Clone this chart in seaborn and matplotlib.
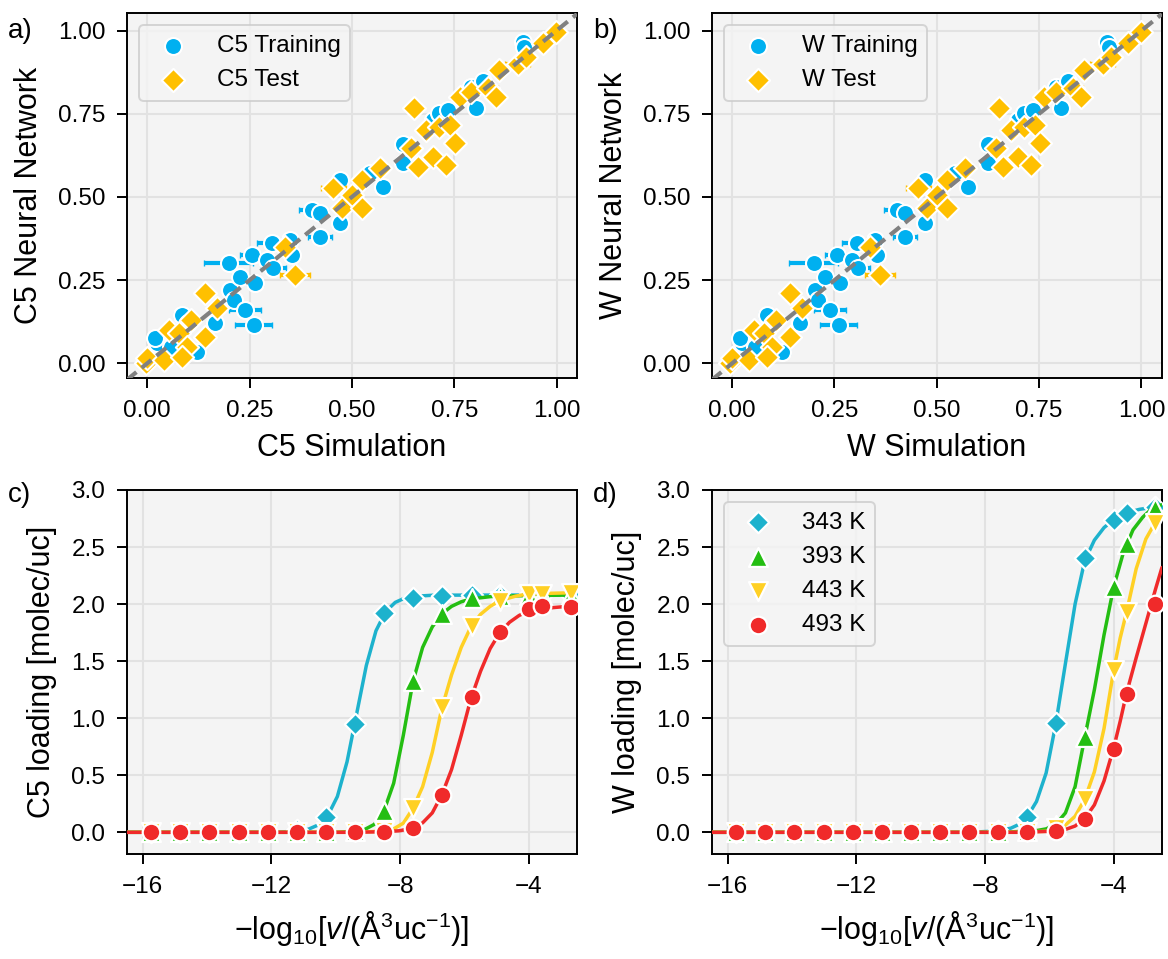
import matplotlib
matplotlib.use('Agg')
import matplotlib.pyplot as plt
import seaborn as sns

# ---- parity plots (a, b): simulation vs neural network ----
train_sim = [0.024, 0.057, 0.020, 0.085, 0.122, 0.166, 0.203, 0.211, 0.239, 0.260,
             0.199, 0.227, 0.264, 0.256, 0.292, 0.304, 0.308, 0.353, 0.349, 0.402,
             0.422, 0.422, 0.471, 0.471, 0.544, 0.576, 0.625, 0.625, 0.698, 0.714,
             0.735, 0.804, 0.790, 0.820, 0.917, 0.921, 0.100]
train_nn = [0.060, 0.050, 0.075, 0.145, 0.035, 0.120, 0.220, 0.190, 0.160, 0.115,
            0.301, 0.261, 0.240, 0.326, 0.311, 0.361, 0.286, 0.326, 0.371, 0.461,
            0.451, 0.381, 0.421, 0.551, 0.571, 0.531, 0.601, 0.660, 0.731, 0.751,
            0.762, 0.767, 0.830, 0.850, 0.967, 0.952, 0.120]
train_err = [0.010, 0.010, 0.010, 0.020, 0.020, 0.015, 0.015, 0.015, 0.040, 0.045,
             0.060, 0.020, 0.020, 0.030, 0.015, 0.035, 0.030, 0.015, 0.020, 0.030,
             0.020, 0.030, 0.015, 0.015, 0.015, 0.015, 0.015, 0.015, 0.015, 0.015,
             0.015, 0.015, 0.015, 0.015, 0.015, 0.015, 0.015]

test_sim = [-0.004, 0.000, 0.041, 0.053, 0.077, 0.097, 0.106, 0.142, 0.142, 0.170,
            0.085, 0.337, 0.361, 0.455, 0.475, 0.500, 0.524, 0.524, 0.568, 0.645,
            0.653, 0.661, 0.682, 0.698, 0.714, 0.731, 0.739, 0.751, 0.763, 0.791,
            0.832, 0.852, 0.860, 0.905, 0.925, 0.966, 0.998]
test_nn = [0.000, 0.015, 0.010, 0.100, 0.090, 0.050, 0.130, 0.080, 0.210, 0.165,
           0.020, 0.351, 0.266, 0.526, 0.466, 0.506, 0.551, 0.466, 0.586, 0.646,
           0.767, 0.591, 0.701, 0.621, 0.711, 0.596, 0.716, 0.661, 0.802, 0.817,
           0.827, 0.800, 0.882, 0.900, 0.922, 0.962, 0.997]
test_err = [0.015, 0.015, 0.015, 0.020, 0.015, 0.015, 0.015, 0.020, 0.015, 0.015,
            0.015, 0.020, 0.036, 0.030, 0.015, 0.015, 0.015, 0.015, 0.015, 0.015,
            0.015, 0.015, 0.020, 0.015, 0.015, 0.015, 0.015, 0.015, 0.020, 0.020,
            0.025, 0.015, 0.020, 0.030, 0.015, 0.015, 0.015]

# ---- isotherms (c, d) ----
log_v = [-15.74, -14.83, -13.93, -13.02, -12.12, -11.21, -10.31, -9.40,
         -8.50, -7.59, -6.69, -5.78, -4.88, -4.00, -3.60, -2.70]
temps = ['343 K', '393 K', '443 K', '493 K']

c5_343 = [0, 0, 0, 0, 0, 0.02, 0.13, 0.95, 1.92, 2.055, 2.075, 2.08, 2.08, 2.08, 2.08, 2.08]
c5_393 = [0, 0, 0, 0, 0, 0, 0, 0.01, 0.19, 1.33, 1.915, 2.05, 2.07, 2.08, 2.08, 2.08]
c5_443 = [0, 0, 0, 0, 0, 0, 0, 0, 0.01, 0.21, 1.10, 1.81, 2.03, 2.09, 2.09, 2.10]
c5_493 = [0, 0, 0, 0, 0, 0, 0, 0, 0.005, 0.04, 0.33, 1.185, 1.755, 1.96, 1.98, 1.975]

w_343 = [0, 0, 0, 0, 0, 0, 0, 0, 0, 0.01, 0.13, 0.957, 2.40, 2.74, 2.80, 2.855]
w_393 = [0, 0, 0, 0, 0, 0, 0, 0, 0, 0, 0.01, 0.06, 0.835, 2.15, 2.53, 2.84]
w_443 = [0, 0, 0, 0, 0, 0, 0, 0, 0, 0, 0, 0.04, 0.295, 1.42, 1.93, 2.71]
w_493 = [0, 0, 0, 0, 0, 0, 0, 0, 0, 0, 0, 0.01, 0.12, 0.73, 1.21, 2.00]

# fitted curves
c5_fit_x_343 = [-16.5, -12.0, -11.75, -11.15, -10.85, -10.55, -10.25, -9.95, -9.65,
                -9.35, -9.05, -8.75, -8.45, -8.15, -7.85, -7.55, -6.95, -2.5]
c5_fit_343 = [0.0, 0.0, 0.002, 0.012, 0.027, 0.064, 0.145, 0.314, 0.618,
              1.04, 1.462, 1.766, 1.934, 2.015, 2.053, 2.068, 2.078, 2.08]
c5_fit_x_393 = [-16.5, -10.0, -9.4, -9.1, -8.8, -8.5, -8.2, -7.9, -7.6, -7.3,
                -7.0, -6.7, -6.4, -6.1, -5.8, -5.2, -4.9, -2.5]
c5_fit_393 = [0.0, 0.0, 0.01, 0.025, 0.07, 0.19, 0.43, 0.85, 1.32, 1.62,
              1.80, 1.915, 1.98, 2.02, 2.045, 2.065, 2.07, 2.08]
c5_fit_x_443 = [-16.5, -9.5, -8.5, -8.2, -7.9, -7.6, -7.3, -7.0, -6.7, -6.4,
                -6.1, -5.8, -5.5, -5.2, -4.9, -4.4, -4.0, -2.5]
c5_fit_443 = [0.0, 0.0, 0.01, 0.03, 0.08, 0.21, 0.40, 0.70, 1.09, 1.38,
              1.62, 1.80, 1.91, 1.98, 2.03, 2.07, 2.09, 2.10]
c5_fit_x_493 = [-16.5, -9.5, -8.5, -8.0, -7.6, -7.3, -7.0, -6.7, -6.4, -6.1,
                -5.8, -5.5, -5.2, -4.9, -4.6, -4.3, -4.0, -3.6, -3.0, -2.5]
c5_fit_493 = [0.0, 0.0, 0.005, 0.014, 0.04, 0.083, 0.17, 0.33, 0.55, 0.85,
              1.17, 1.41, 1.61, 1.75, 1.84, 1.90, 1.94, 1.96, 1.975, 1.98]

w_fit_x_343 = [-16.5, -8.5, -7.6, -7.2, -6.9, -6.7, -6.4, -6.1, -5.8, -5.5,
               -5.2, -4.9, -4.6, -4.3, -4.0, -3.6, -3.2, -2.5]
w_fit_343 = [0.0, 0.0, 0.012, 0.036, 0.075, 0.13, 0.27, 0.52, 0.95, 1.48,
             2.0, 2.38, 2.56, 2.67, 2.74, 2.80, 2.83, 2.86]
w_fit_x_393 = [-16.5, -7.5, -6.7, -6.4, -6.1, -5.8, -5.5, -5.2, -4.9, -4.6,
               -4.3, -4.0, -3.7, -3.4, -3.1, -2.8, -2.5]
w_fit_393 = [0.0, 0.0, 0.01, 0.015, 0.03, 0.07, 0.17, 0.40, 0.83, 1.25,
             1.73, 2.15, 2.45, 2.65, 2.76, 2.84, 2.87]
w_fit_x_443 = [-16.5, -7.0, -6.0, -5.8, -5.5, -5.2, -4.9, -4.6, -4.3, -4.0,
               -3.8, -3.6, -3.3, -3.0, -2.7, -2.5]
w_fit_443 = [0.0, 0.0, 0.01, 0.03, 0.064, 0.14, 0.29, 0.53, 0.91, 1.42,
             1.70, 1.93, 2.31, 2.57, 2.72, 2.78]
w_fit_x_493 = [-16.5, -7.0, -5.8, -5.5, -5.2, -4.9, -4.6, -4.3, -4.0, -3.8,
               -3.6, -3.3, -3.0, -2.7, -2.5]
w_fit_493 = [0.0, 0.0, 0.01, 0.025, 0.055, 0.12, 0.24, 0.45, 0.74, 0.97,
             1.22, 1.53, 1.83, 2.13, 2.32]

train_color = '#00b0f0'
test_color = '#ffc000'
temp_colors = ['#1db2cd', '#24be12', '#ffd024', '#f02a2a']
temp_markers = ['D', '^', 'v', 'o']
temp_sizes = [120, 185, 185, 160]

sns.set_theme(style='ticks')
plt.rcParams['font.family'] = ['Liberation Sans', 'DejaVu Sans']
plt.rcParams.update({
    'mathtext.fontset': 'custom',
    'mathtext.rm': 'Liberation Sans',
    'mathtext.it': 'Liberation Sans:italic',
    'mathtext.bf': 'Liberation Sans:bold',
    'axes.facecolor': '#f4f4f4',
    'axes.edgecolor': 'black',
    'axes.linewidth': 1.4,
    'text.color': 'black',
    'axes.labelcolor': 'black',
    'xtick.color': 'black', 'ytick.color': 'black',
    'xtick.major.size': 7, 'ytick.major.size': 7,
    'xtick.major.width': 1.4, 'ytick.major.width': 1.4,
    'xtick.major.pad': 8.5, 'ytick.major.pad': 8.5,
    'xtick.labelsize': 17.5, 'ytick.labelsize': 17.5,
    'axes.labelsize': 22,
    'axes.labelpad': 8,
    'legend.fontsize': 17.5,
})

fig = plt.figure(figsize=(11.68, 9.59), dpi=100)
ax_a = fig.add_axes([0.1085, 0.6055, 0.3855, 0.3806])
ax_b = fig.add_axes([0.6093, 0.6055, 0.3855, 0.3806])
ax_c = fig.add_axes([0.1085, 0.1095, 0.3855, 0.3796])
ax_d = fig.add_axes([0.6093, 0.1095, 0.3855, 0.3796])


def parity_panel(ax, species, letter):
    ax.errorbar(train_sim, train_nn, xerr=train_err, fmt='none', ecolor=train_color,
                elinewidth=3, capsize=2.5, capthick=1, zorder=2)
    sns.scatterplot(x=train_sim, y=train_nn, color=train_color, marker='o', s=150,
                    edgecolor='white', linewidth=1.5, label=species + ' Training',
                    ax=ax, zorder=3)
    ax.errorbar(test_sim, test_nn, xerr=test_err, fmt='none', ecolor=test_color,
                elinewidth=3, capsize=2.5, capthick=1, zorder=4)
    sns.scatterplot(x=test_sim, y=test_nn, color=test_color, marker='D', s=140,
                    edgecolor='white', linewidth=1.5, label=species + ' Test',
                    ax=ax, zorder=5)
    ax.plot([-0.05, 1.05], [-0.05, 1.05], color='#808080', lw=3,
            linestyle=(0, (3, 1.6)), zorder=6)
    ax.set_xlim(-0.05, 1.05)
    ax.set_ylim(-0.045, 1.052)
    ticks = [0, 0.25, 0.5, 0.75, 1.0]
    ax.set_xticks(ticks)
    ax.set_yticks(ticks)
    ax.set_xticklabels(['%.2f' % t for t in ticks])
    ax.set_yticklabels(['%.2f' % t for t in ticks])
    ax.set_xlabel(species + ' Simulation')
    ax.set_ylabel(species + ' Neural Network', labelpad=10)
    ax.grid(True, color='#e2e2e2', linewidth=1.5)
    ax.set_axisbelow(True)
    leg = ax.legend(loc='upper left', frameon=True)
    leg.get_frame().set_linewidth(1.4)
    ax.text(-0.263, 0.951, letter, transform=ax.transAxes, ha='left', va='center',
            fontsize=20)


def isotherm_panel(ax, species, series, fits, letter, show_legend):
    for i in range(len(temps)):
        fx, fy = fits[i]
        sns.lineplot(x=fx, y=fy, color=temp_colors[i], lw=2.5, ax=ax,
                     errorbar=None, legend=False, zorder=2 + 2 * i)
        sns.scatterplot(x=log_v, y=series[i], color=temp_colors[i],
                        marker=temp_markers[i], s=temp_sizes[i], edgecolor='white',
                        linewidth=1.6, label=temps[i], ax=ax, zorder=3 + 2 * i)
    ax.set_xlim(-16.5, -2.5)
    ax.set_ylim(-0.19, 3.0)
    ax.set_xticks([-16, -12, -8, -4])
    ax.set_yticks([0, 0.5, 1.0, 1.5, 2.0, 2.5, 3.0])
    ax.set_yticklabels(['%.1f' % t for t in [0, 0.5, 1.0, 1.5, 2.0, 2.5, 3.0]])
    ax.set_xlabel(r'$-\mathrm{log}_{10}[v/(\mathrm{Å}^{3}\mathrm{uc}^{-1})]$')
    ax.set_ylabel(species + ' loading [molec/uc]', labelpad=10)
    ax.grid(True, color='#e2e2e2', linewidth=1.5)
    ax.set_axisbelow(True)
    if show_legend:
        leg = ax.legend(loc='upper left', frameon=True)
        leg.get_frame().set_linewidth(1.4)
    else:
        ax.get_legend().remove()
    ax.text(-0.263, 0.986, letter, transform=ax.transAxes, ha='left', va='center',
            fontsize=20)


parity_panel(ax_a, 'C5', 'a)')
parity_panel(ax_b, 'W', 'b)')

isotherm_panel(ax_c, 'C5', [c5_343, c5_393, c5_443, c5_493],
               [(c5_fit_x_343, c5_fit_343), (c5_fit_x_393, c5_fit_393),
                (c5_fit_x_443, c5_fit_443), (c5_fit_x_493, c5_fit_493)],
               'c)', False)
isotherm_panel(ax_d, 'W', [w_343, w_393, w_443, w_493],
               [(w_fit_x_343, w_fit_343), (w_fit_x_393, w_fit_393),
                (w_fit_x_443, w_fit_443), (w_fit_x_493, w_fit_493)],
               'd)', True)

fig.savefig('out.png', dpi=100)
